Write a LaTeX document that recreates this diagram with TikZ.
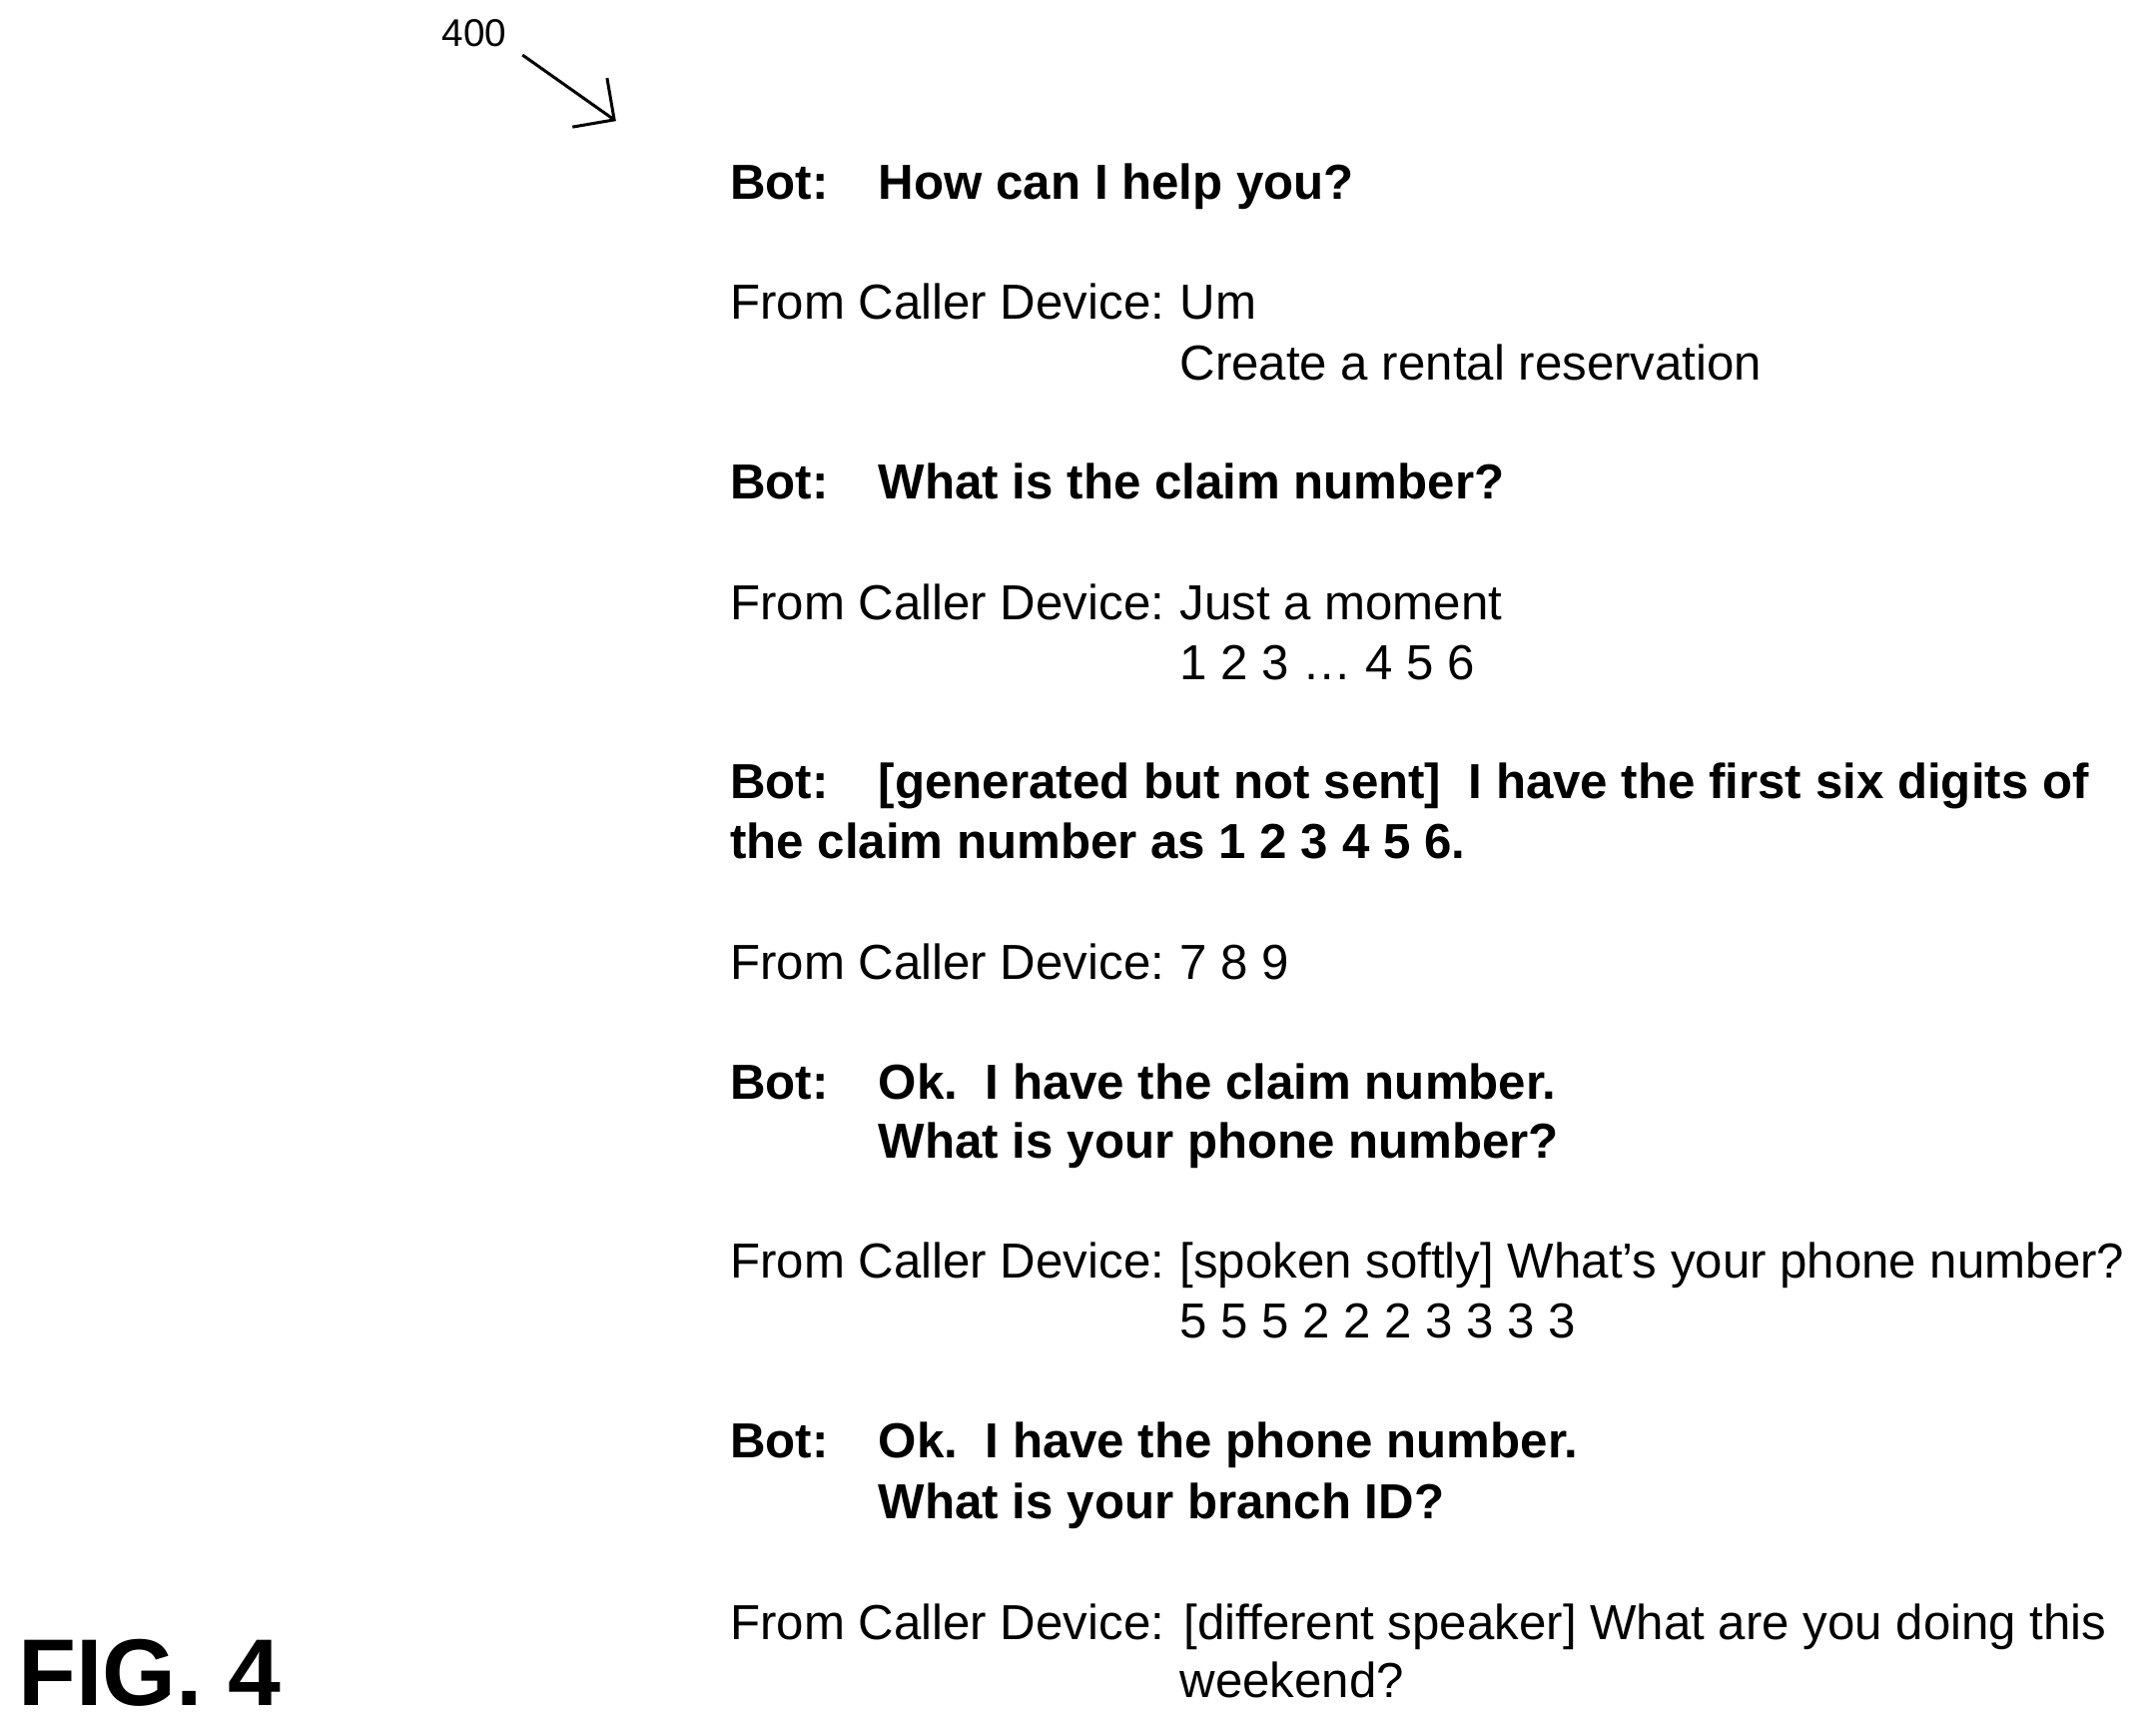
\documentclass[tikz,border=0pt]{standalone}
\usepackage{fontspec}
\setmainfont{Liberation Sans}
\usetikzlibrary{arrows.meta}

\begin{document}
\begin{tikzpicture}[
		x=0.01377cm, y=-0.01377cm,
		line width=0.3mm,
		txt/.style={anchor=base west, inner sep=0pt, font=\fontsize{14}{16}\selectfont},
		bot/.style={txt, font=\fontsize{14}{16}\selectfont\bfseries}
	]
	\useasboundingbox (0,0) rectangle (1568,1260);

	% reference label
	\node[anchor=south, inner sep=1pt, font=\fontsize{11}{13}\selectfont] (ref) at (345,38) {400};
	\coordinate (reftip) at (448,88);
	\draw[-{Straight Barb[length=3mm]}] (380,40) -- (reftip);

	\node[anchor=base west, inner sep=0pt, font=\fontsize{27}{30}\selectfont\bfseries] (fig) at (12,1240) {FIG. 4};

	% dialogue
	\node[bot] (b1) at (530,145) {Bot:};
	\node[bot] (b1t) at (638,145) {How can I help you?};

	\node[txt] (c1) at (530,232) {From Caller Device:};
	\node[txt] (c1t) at (857,232) {Um};
	\node[txt] (c1u) at (857,276) {Create a rental reservation};

	\node[bot] (b2) at (530,363) {Bot:};
	\node[bot] (b2t) at (638,363) {What is the claim number?};

	\node[txt] (c2) at (530,451) {From Caller Device:};
	\node[txt] (c2t) at (857,451) {Just a moment};
	\node[txt] (c2u) at (857,494) {1 2 3 \dots\ 4 5 6};

	\node[bot] (b3) at (530,581) {Bot:};
	\node[bot] (b3t) at (638,581) {[generated but not sent]\ \ I have the first six digits of};
	\node[bot] (b3u) at (530,624) {the claim number as 1 2 3 4 5 6.};

	\node[txt] (c3) at (530,712) {From Caller Device:};
	\node[txt] (c3t) at (857,712) {7 8 9};

	\node[bot] (b4) at (530,799) {Bot:};
	\node[bot] (b4t) at (638,799) {Ok.\ \ I have the claim number.};
	\node[bot] (b4u) at (638,842) {What is your phone number?};

	\node[txt] (c4) at (530,929) {From Caller Device:};
	\node[txt] (c4t) at (857,929) {[spoken softly] What’s your phone number?};
	\node[txt] (c4u) at (857,973) {5 5 5 2 2 2 3 3 3 3};

	\node[bot] (b5) at (530,1060) {Bot:};
	\node[bot] (b5t) at (638,1060) {Ok.\ \ I have the phone number.};
	\node[bot] (b5u) at (638,1104) {What is your branch ID?};

	\node[txt] (c5) at (530,1192) {From Caller Device:};
	\node[txt] (c5t) at (860,1192) {[different speaker] What are you doing this};
	\node[txt] (c5u) at (857,1234) {weekend?};
\end{tikzpicture}
\end{document}
